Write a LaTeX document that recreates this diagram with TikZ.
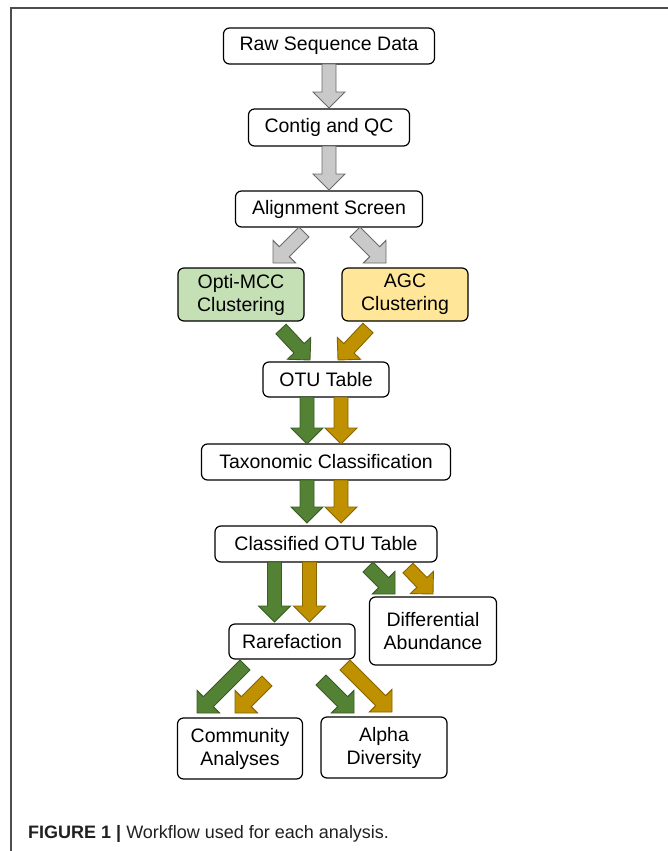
\documentclass[tikz,border=0pt]{standalone}
\usepackage{fontspec}
\setmainfont{Liberation Sans}
\usepackage{xcolor}
\usepackage{tikz}
\usetikzlibrary{positioning,calc}
\definecolor{optigreen}{HTML}{C5E0B4}
\definecolor{agcyellow}{HTML}{FFE699}
\definecolor{arrgreen}{HTML}{548235}
\definecolor{arrgold}{HTML}{BF9000}
\definecolor{arrgray}{HTML}{C9C9C9}
\definecolor{framegray}{HTML}{4D4D4D}
\definecolor{captext}{HTML}{231F20}
\newcommand{\shaftw}{7pt}
\newcommand{\headw}{16pt}
\newcommand{\headlen}{16pt}
% block arrow from tail to tip
\newcommand{\flowarrow}[3][]{%
  \path (#2) coordinate (fa) (#3) coordinate (fb);
  \coordinate (fh) at ($(fb)!\headlen!(fa)$);
  \draw[fat,#1] ($(fa)!\shaftw!90:(fb)$) -- ($(fh)!\shaftw!90:(fb)$)
    -- ($(fh)!\headw!90:(fb)$) -- (fb) -- ($(fh)!\headw!-90:(fb)$)
    -- ($(fh)!\shaftw!-90:(fb)$) -- ($(fa)!\shaftw!-90:(fb)$) -- cycle;}

\begin{document}
\begin{tikzpicture}[
  x=1pt,y=1pt,
  bx/.style={draw,rounded corners=6pt,line width=1.2pt,inner sep=3pt,outer sep=0pt,
             minimum width=126pt,minimum height=36pt,align=center,
             font={\fontsize{19.5pt}{23pt}\selectfont}},
  fat/.style={line width=0.9pt,line join=miter},
  gry/.style={fill=arrgray,draw=black!58},
  grn/.style={fill=arrgreen,draw=arrgreen!70!black},
  gld/.style={fill=arrgold,draw=arrgold!70!black}
]
\useasboundingbox (0,0) rectangle (668,-851);
\draw[framegray,line width=1.6pt] (11,-851) |- (668,-8);

\node[bx,minimum width=211pt] (raw) at (329,-46) {Raw Sequence Data};
\node[bx,minimum width=161pt,minimum height=37pt,below=45pt of raw] (contig) {Contig and QC};
\node[bx,minimum width=187pt,below=45pt of contig] (align) {Alignment Screen};
\node[bx,fill=optigreen,minimum height=53pt,below=41pt of align,xshift=-88pt] (opti) {Opti-MCC\\Clustering};
\node[bx,fill=agcyellow,minimum height=53pt,below=41pt of align,xshift=76pt] (agc) {AGC\\Clustering};
\node[bx,minimum height=35pt,below=135pt of align,xshift=-3pt] (otu) {OTU Table};
\node[bx,minimum width=249pt,below=47pt of otu] (taxo) {Taxonomic Classification};
\node[bx,minimum width=222pt,below=46pt of taxo] (clotu) {Classified OTU Table};
\node[bx,minimum height=35pt,below=62pt of clotu,xshift=-34pt] (rare) {Rarefaction};
\node[bx,minimum width=127pt,minimum height=68pt,below=35pt of clotu,xshift=107pt] (diffab) {Differential\\Abundance};
\node[bx,minimum width=125pt,minimum height=61pt,below=59pt of rare,xshift=-52pt] (comm) {Community\\Analyses};
\node[bx,minimum height=61pt,below=58pt of rare,xshift=92pt] (alpha) {Alpha\\Diversity};

\flowarrow[gry]{raw.south}{[yshift=1pt]contig.north}
\flowarrow[gry]{contig.south}{[yshift=1pt]align.north}
\flowarrow[gry]{[shift={(-25pt,-5pt)}]align.south}{[shift={(32pt,5pt)}]opti.north}
\flowarrow[gry]{[shift={(26pt,-5pt)}]align.south}{[shift={(-19pt,5pt)}]agc.north}
\flowarrow[grn]{[shift={(40pt,-8pt)}]opti.south}{[shift={(-16pt,2pt)}]otu.north}
\flowarrow[gld]{[shift={(-37pt,-7pt)}]agc.south}{[shift={(12pt,2pt)}]otu.north}
\flowarrow[grn]{[xshift=-19pt]otu.south}{[xshift=-19pt]taxo.north}
\flowarrow[gld]{[xshift=15pt]otu.south}{[xshift=15pt]taxo.north}
\flowarrow[grn]{[xshift=-19pt]taxo.south}{[shift={(-19pt,3pt)}]clotu.north}
\flowarrow[gld]{[xshift=15pt]taxo.south}{[shift={(15pt,3pt)}]clotu.north}
\flowarrow[grn]{[xshift=-51.5pt]clotu.south}{[shift={(-17.5pt,2pt)}]rare.north}
\flowarrow[gld]{[xshift=-16.5pt]clotu.south}{[shift={(17.5pt,2pt)}]rare.north}
\flowarrow[grn]{[shift={(42pt,-5pt)}]clotu.south}{[shift={(-38pt,3pt)}]diffab.north}
\flowarrow[gld]{[shift={(82pt,-6pt)}]clotu.south}{[shift={(0pt,3pt)}]diffab.north}
\flowarrow[grn]{[shift={(-47pt,-6pt)}]rare.south}{[shift={(-43pt,5pt)}]comm.north}
\flowarrow[gld]{[shift={(-25pt,-22pt)}]rare.south}{[shift={(-5pt,5pt)}]comm.north}
\flowarrow[grn]{[shift={(29pt,-21pt)}]rare.south}{[shift={(-30pt,4pt)}]alpha.north}
\flowarrow[gld]{[shift={(53pt,-6pt)}]rare.south}{[shift={(8pt,5pt)}]alpha.north}

\node[anchor=base west,inner sep=0pt,text=captext,font={\fontsize{18pt}{21pt}\selectfont}] (caption) at (28,-838)
  {\textbf{FIGURE 1 |} Workflow used for each analysis.};
\end{tikzpicture}
\end{document}
